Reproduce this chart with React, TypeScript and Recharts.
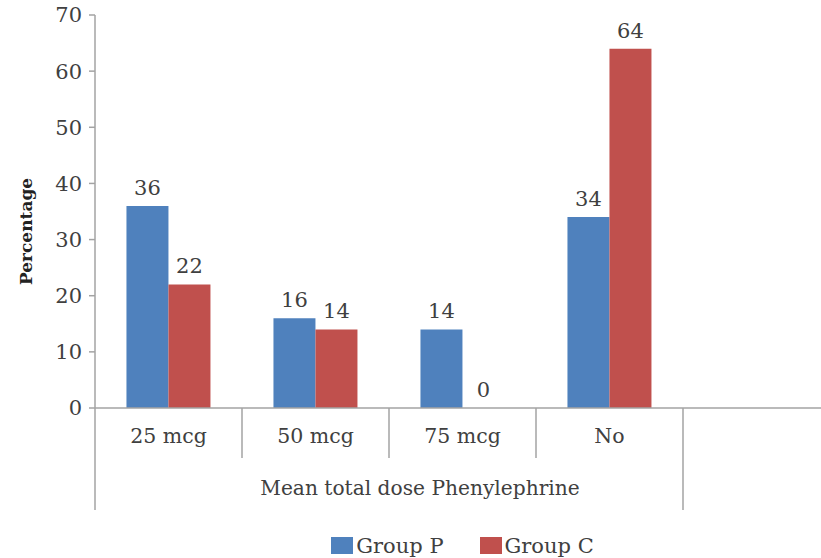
import { Bar, BarChart, LabelList, Legend, XAxis, YAxis } from "recharts";

const CATEGORIES = ["25 mcg", "50 mcg", "75 mcg", "No", ""];
const GROUP_P = [36, 16, 14, 34, null];
const GROUP_C = [22, 14, 0, 64, null];
const Y_TICKS = [0, 10, 20, 30, 40, 50, 60, 70];
const SERIES = [
  { key: "p", name: "Group P", color: "#4F81BD" },
  { key: "c", name: "Group C", color: "#C0504D" },
];
const GROUP_LABEL = "Mean total dose Phenylephrine";
const GROUP_SPAN = 4; // first four categories sit under the group label

const FONT = "'DejaVu Serif', serif";
const TEXT = "#404040";
const AXIS = "#a3a3a3";

const CHART_W = 830;
const CHART_H = 558;
const Y_AXIS_W = 95;
const BAND = (CHART_W - Y_AXIS_W) / CATEGORIES.length;

const data = CATEGORIES.map((name, i) => ({ name, p: GROUP_P[i], c: GROUP_C[i] }));

// zero-height bars are dropped by recharts, so give them a hair of height to keep their label
const keepZero = (value: any) => (value === 0 ? 0.01 : 0);

function CategoryTick(props: any) {
  const { x, y, payload, index } = props;
  const left = x - BAND / 2;
  const long = index === 0 || index === GROUP_SPAN;
  return (
    <g>
      <line x1={left} x2={left} y1={y} y2={y + (long ? 102 : 50)} stroke={AXIS} strokeWidth={1.5} />
      <text x={x} y={y + 35} textAnchor="middle" fill={TEXT} fontSize={20.5} fontFamily={FONT}>
        {payload.value}
      </text>
      {index === 0 && (
        <text x={left + (GROUP_SPAN * BAND) / 2 + 31} y={y + 87} textAnchor="middle" fill={TEXT} fontSize={20.2} fontFamily={FONT}>
          {GROUP_LABEL}
        </text>
      )}
    </g>
  );
}

// value label above each bar, zero included
function ValueLabel(props: any) {
  const { x, y, width, value } = props;
  if (value === null || value === undefined) return null;
  return (
    <text x={x + width / 2} y={y - 11} textAnchor="middle" fill={TEXT} fontSize={21} fontFamily={FONT}>
      {value}
    </text>
  );
}

function LegendContent() {
  return (
    <div style={{ display: "flex", justifyContent: "center", height: 36, paddingTop: 11, boxSizing: "border-box", fontFamily: FONT, fontSize: 21, color: TEXT }}>
      {SERIES.map((s, i) => (
        <div key={s.key} style={{ display: "flex", alignItems: "center", marginLeft: i === 0 ? 0 : 36 }}>
          <span style={{ display: "inline-block", width: 22, height: 17, background: s.color, marginRight: 3 }} />
          <span>{s.name}</span>
        </div>
      ))}
    </div>
  );
}

export default function App() {
  return (
    <div style={{ position: "fixed", left: 0, top: 0, width: 821, height: 558, overflow: "hidden", background: "#fff" }}>
      <BarChart
        width={CHART_W}
        height={CHART_H}
        data={data}
        margin={{ top: 15, right: 0, bottom: 0, left: 0 }}
        barGap={0}
        barCategoryGap="21.4%"
      >
        <XAxis
          dataKey="name"
          height={114}
          interval={0}
          tickSize={0}
          tickMargin={0}
          tickLine={false}
          axisLine={{ stroke: AXIS, strokeWidth: 1.5 }}
          tick={<CategoryTick />}
        />
        <YAxis
          width={Y_AXIS_W}
          domain={[0, 70]}
          ticks={Y_TICKS}
          tickSize={6}
          tickMargin={7}
          axisLine={{ stroke: AXIS, strokeWidth: 1.5 }}
          tickLine={{ stroke: AXIS, strokeWidth: 1.5 }}
          tick={{ fill: TEXT, fontSize: 21, fontFamily: FONT }}
          label={{
            content: ({ viewBox }: any) => {
              const cx = viewBox.x + 32;
              const cy = viewBox.y + viewBox.height / 2 + 20;
              return (
                <text x={cx} y={cy} transform={`rotate(-90 ${cx} ${cy})`} textAnchor="middle" fill="#222" fontSize={17} fontWeight="bold" fontFamily={FONT}>
                  Percentage
                </text>
              );
            },
          }}
        />
        <Legend
          verticalAlign="bottom"
          height={36}
          wrapperStyle={{ left: Y_AXIS_W, width: CHART_W - Y_AXIS_W }}
          content={<LegendContent />}
        />
        {SERIES.map((s) => (
          <Bar key={s.key} dataKey={s.key} name={s.name} fill={s.color} minPointSize={keepZero} isAnimationActive={false}>
            <LabelList dataKey={s.key} content={<ValueLabel />} />
          </Bar>
        ))}
      </BarChart>
    </div>
  );
}
